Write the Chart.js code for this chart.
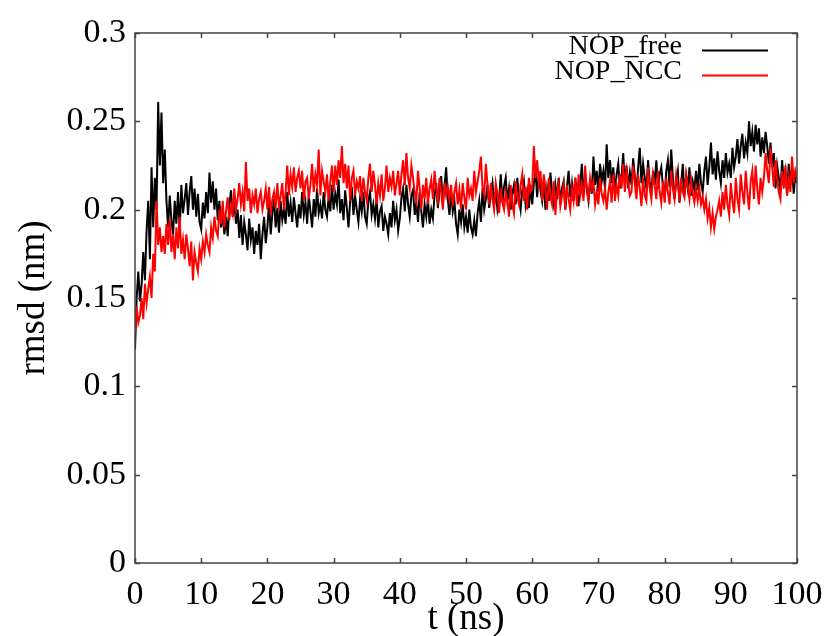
<!DOCTYPE html>
<html>
<head>
<meta charset="utf-8">
<script src="https://cdn.jsdelivr.net/npm/chart.js@4"></script>
<style>
  html, body { margin: 0; padding: 0; background: #fff; }
  #wrap { width: 826px; height: 636px; }
</style>
</head>
<body>
<div id="wrap"><canvas id="rmsdChart" width="826" height="636"></canvas></div>
<script>
'use strict';

// time axis, ns (0 .. 100 every 0.25)
const times = Array.from({ length: 401 }, (_, i) => i * 0.25);

const seriesNames = ['NOP_free', 'NOP_NCC'];
const seriesColors = ['#000000', '#ff0000'];

// rmsd (nm), one row per 5 ns
const nopFree = [
    0.121, 0.150, 0.165, 0.148, 0.158, 0.176, 0.160, 0.188, 0.205, 0.172, 0.224, 0.190, 0.218, 0.200, 0.261, 0.225, 0.255, 0.215, 0.234, 0.205,
    0.190, 0.208, 0.194, 0.186, 0.205, 0.192, 0.210, 0.188, 0.214, 0.198, 0.206, 0.215, 0.197, 0.210, 0.219, 0.200, 0.212, 0.196, 0.209, 0.193,
    0.189, 0.204, 0.195, 0.210, 0.198, 0.221, 0.204, 0.216, 0.200, 0.212, 0.194, 0.205, 0.190, 0.198, 0.186, 0.196, 0.185, 0.202, 0.211, 0.196,
    0.205, 0.192, 0.200, 0.184, 0.197, 0.180, 0.193, 0.186, 0.177, 0.195, 0.183, 0.190, 0.175, 0.188, 0.180, 0.192, 0.172, 0.186, 0.196, 0.181,
    0.190, 0.204, 0.186, 0.198, 0.206, 0.190, 0.201, 0.187, 0.205, 0.194, 0.200, 0.192, 0.210, 0.196, 0.204, 0.193, 0.207, 0.198, 0.190, 0.203,
    0.195, 0.210, 0.197, 0.204, 0.192, 0.208, 0.199, 0.190, 0.206, 0.196, 0.212, 0.198, 0.203, 0.195, 0.210, 0.200, 0.196, 0.207, 0.199, 0.214,
    0.200, 0.209, 0.203, 0.217, 0.198, 0.206, 0.194, 0.211, 0.201, 0.190, 0.205, 0.213, 0.197, 0.208, 0.200, 0.193, 0.206, 0.199, 0.210, 0.196,
    0.192, 0.205, 0.210, 0.197, 0.203, 0.195, 0.206, 0.190, 0.199, 0.202, 0.188, 0.196, 0.192, 0.186, 0.198, 0.190, 0.205, 0.194, 0.200, 0.188,
    0.195, 0.207, 0.212, 0.199, 0.214, 0.203, 0.196, 0.208, 0.211, 0.197, 0.204, 0.193, 0.210, 0.199, 0.190, 0.203, 0.196, 0.206, 0.192, 0.200,
    0.195, 0.208, 0.215, 0.201, 0.210, 0.219, 0.204, 0.213, 0.224, 0.206, 0.197, 0.210, 0.199, 0.205, 0.192, 0.186, 0.200, 0.193, 0.203, 0.190,
    0.196, 0.187, 0.200, 0.190, 0.186, 0.194, 0.185, 0.198, 0.205, 0.193, 0.212, 0.200, 0.206, 0.214, 0.201, 0.209, 0.215, 0.203, 0.210, 0.200,
    0.206, 0.220, 0.204, 0.213, 0.218, 0.205, 0.212, 0.200, 0.209, 0.214, 0.203, 0.218, 0.207, 0.200, 0.211, 0.216, 0.203, 0.210, 0.201, 0.214,
    0.203, 0.215, 0.222, 0.207, 0.220, 0.211, 0.205, 0.216, 0.200, 0.212, 0.205, 0.221, 0.209, 0.203, 0.214, 0.206, 0.218, 0.203, 0.212, 0.216,
    0.200, 0.213, 0.222, 0.207, 0.215, 0.205, 0.218, 0.210, 0.202, 0.214, 0.226, 0.208, 0.220, 0.212, 0.205, 0.217, 0.209, 0.230, 0.214, 0.222,
    0.210, 0.226, 0.216, 0.222, 0.212, 0.237, 0.218, 0.228, 0.215, 0.224, 0.210, 0.220, 0.226, 0.212, 0.219, 0.232, 0.214, 0.225, 0.212, 0.221,
    0.214, 0.229, 0.219, 0.210, 0.224, 0.235, 0.215, 0.226, 0.218, 0.212, 0.228, 0.216, 0.210, 0.222, 0.214, 0.228, 0.212, 0.220, 0.224, 0.213,
    0.208, 0.222, 0.228, 0.213, 0.234, 0.218, 0.206, 0.216, 0.222, 0.204, 0.214, 0.226, 0.208, 0.219, 0.212, 0.224, 0.208, 0.216, 0.211, 0.222,
    0.211, 0.226, 0.215, 0.210, 0.222, 0.230, 0.214, 0.224, 0.238, 0.220, 0.229, 0.217, 0.233, 0.222, 0.215, 0.228, 0.218, 0.232, 0.221, 0.226,
    0.218, 0.235, 0.224, 0.230, 0.240, 0.226, 0.236, 0.243, 0.229, 0.238, 0.232, 0.250, 0.236, 0.244, 0.233, 0.248, 0.237, 0.246, 0.230, 0.241,
    0.232, 0.244, 0.236, 0.226, 0.238, 0.224, 0.232, 0.212, 0.225, 0.218, 0.210, 0.228, 0.216, 0.222, 0.208, 0.226, 0.214, 0.224, 0.209, 0.220,
    0.215
];

const nopNcc = [
    0.130, 0.145, 0.136, 0.140, 0.150, 0.138, 0.158, 0.147, 0.155, 0.162, 0.150, 0.175, 0.165, 0.205, 0.180, 0.190, 0.176, 0.185, 0.175, 0.192,
    0.180, 0.195, 0.176, 0.186, 0.172, 0.190, 0.178, 0.196, 0.175, 0.183, 0.172, 0.186, 0.178, 0.168, 0.182, 0.160, 0.176, 0.170, 0.165, 0.178,
    0.172, 0.182, 0.176, 0.186, 0.180, 0.176, 0.190, 0.184, 0.196, 0.188, 0.185, 0.200, 0.192, 0.205, 0.190, 0.199, 0.207, 0.194, 0.203, 0.198,
    0.212, 0.200, 0.206, 0.215, 0.203, 0.210, 0.199, 0.227, 0.205, 0.212, 0.198, 0.208, 0.203, 0.212, 0.198, 0.206, 0.210, 0.200, 0.205, 0.212,
    0.200, 0.213, 0.197, 0.206, 0.210, 0.201, 0.215, 0.202, 0.208, 0.215, 0.200, 0.210, 0.225, 0.208, 0.220, 0.213, 0.224, 0.210, 0.218, 0.222,
    0.212, 0.222, 0.205, 0.216, 0.218, 0.206, 0.214, 0.226, 0.210, 0.220, 0.214, 0.234, 0.208, 0.222, 0.216, 0.210, 0.220, 0.205, 0.216, 0.225,
    0.210, 0.225, 0.214, 0.228, 0.218, 0.236, 0.215, 0.226, 0.212, 0.225, 0.205, 0.218, 0.222, 0.208, 0.216, 0.212, 0.219, 0.205, 0.218, 0.210,
    0.205, 0.218, 0.226, 0.210, 0.222, 0.214, 0.203, 0.215, 0.208, 0.220, 0.205, 0.212, 0.225, 0.210, 0.218, 0.213, 0.222, 0.208, 0.215, 0.222,
    0.208, 0.220, 0.228, 0.214, 0.232, 0.218, 0.212, 0.225, 0.218, 0.210, 0.205, 0.222, 0.212, 0.200, 0.214, 0.206, 0.218, 0.203, 0.212, 0.217,
    0.206, 0.222, 0.212, 0.205, 0.218, 0.210, 0.200, 0.215, 0.208, 0.213, 0.206, 0.214, 0.202, 0.210, 0.215, 0.203, 0.211, 0.200, 0.215, 0.207,
    0.200, 0.218, 0.208, 0.212, 0.205, 0.222, 0.210, 0.216, 0.222, 0.230, 0.212, 0.208, 0.226, 0.214, 0.203, 0.215, 0.206, 0.200, 0.215, 0.209,
    0.198, 0.212, 0.204, 0.200, 0.210, 0.205, 0.196, 0.214, 0.203, 0.198, 0.216, 0.207, 0.203, 0.214, 0.220, 0.205, 0.213, 0.200, 0.218, 0.210,
    0.212, 0.236, 0.218, 0.228, 0.215, 0.222, 0.205, 0.220, 0.212, 0.200, 0.218, 0.208, 0.203, 0.216, 0.197, 0.210, 0.215, 0.202, 0.208, 0.214,
    0.200, 0.214, 0.206, 0.200, 0.212, 0.205, 0.218, 0.202, 0.220, 0.208, 0.214, 0.205, 0.225, 0.210, 0.206, 0.218, 0.212, 0.216, 0.203, 0.210,
    0.203, 0.218, 0.209, 0.205, 0.212, 0.200, 0.210, 0.216, 0.204, 0.220, 0.205, 0.214, 0.208, 0.220, 0.212, 0.226, 0.210, 0.222, 0.215, 0.208,
    0.210, 0.225, 0.215, 0.206, 0.220, 0.212, 0.202, 0.218, 0.208, 0.205, 0.224, 0.212, 0.206, 0.220, 0.214, 0.206, 0.222, 0.210, 0.204, 0.216,
    0.204, 0.218, 0.210, 0.203, 0.222, 0.212, 0.206, 0.220, 0.214, 0.205, 0.218, 0.210, 0.207, 0.220, 0.213, 0.206, 0.217, 0.209, 0.204, 0.212,
    0.205, 0.212, 0.203, 0.207, 0.200, 0.206, 0.195, 0.201, 0.190, 0.198, 0.189, 0.196, 0.200, 0.205, 0.196, 0.210, 0.200, 0.214, 0.203, 0.197,
    0.215, 0.205, 0.198, 0.218, 0.206, 0.200, 0.220, 0.210, 0.203, 0.222, 0.210, 0.200, 0.216, 0.222, 0.206, 0.225, 0.212, 0.203, 0.218, 0.210,
    0.218, 0.232, 0.222, 0.215, 0.235, 0.224, 0.213, 0.228, 0.218, 0.210, 0.206, 0.222, 0.212, 0.225, 0.208, 0.218, 0.210, 0.230, 0.215, 0.222,
    0.218
];

const xTicks = [0, 10, 20, 30, 40, 50, 60, 70, 80, 90, 100];
const yTicks = [0, 0.05, 0.1, 0.15, 0.2, 0.25, 0.3];

const serif = '"Liberation Serif", "DejaVu Serif", serif';

function toPoints(ys) {
    return ys.map((y, i) => ({ x: times[i], y: y }));
}

// gnuplot-like frame with inward ticks on all four sides
const framePlugin = {
    id: 'frame',
    afterDatasetsDraw(chart) {
        const { ctx, chartArea: a, scales } = chart;
        ctx.save();
        ctx.strokeStyle = '#444';
        ctx.lineWidth = 1.5;
        ctx.strokeRect(a.left, a.top, a.right - a.left, a.bottom - a.top);
        ctx.beginPath();
        xTicks.forEach(v => {
            const px = Math.round(scales.x.getPixelForValue(v)) + 0.5;
            ctx.moveTo(px, a.bottom); ctx.lineTo(px, a.bottom - 5);
            ctx.moveTo(px, a.top); ctx.lineTo(px, a.top + 5);
        });
        yTicks.forEach(v => {
            const py = Math.round(scales.y.getPixelForValue(v)) + 0.5;
            ctx.moveTo(a.left, py); ctx.lineTo(a.left + 5, py);
            ctx.moveTo(a.right, py); ctx.lineTo(a.right - 5, py);
        });
        ctx.stroke();
        ctx.restore();
    }
};

// key in the top right corner: text right-aligned, sample line after it
const keyPlugin = {
    id: 'key',
    afterDraw(chart) {
        const ctx = chart.ctx;
        ctx.save();
        ctx.font = '28px ' + serif;
        ctx.textAlign = 'right';
        ctx.textBaseline = 'middle';
        seriesNames.forEach((name, i) => {
            const y = 49 + i * 25;
            ctx.fillStyle = '#000';
            ctx.fillText(name, 682, y - 2);
            ctx.strokeStyle = seriesColors[i];
            ctx.lineWidth = 2;
            ctx.beginPath();
            ctx.moveTo(702, y + 1.5);
            ctx.lineTo(768, y + 1.5);
            ctx.stroke();
        });
        ctx.restore();
    }
};

const ctx = document.getElementById('rmsdChart').getContext('2d');
const rmsdChart = new Chart(ctx, {
    type: 'line',
    data: {
        datasets: [
            {
                label: seriesNames[0],
                data: toPoints(nopFree),
                borderColor: seriesColors[0],
                borderWidth: 2,
                pointRadius: 0,
                tension: 0,
                order: 1
            },
            {
                label: seriesNames[1],
                data: toPoints(nopNcc),
                borderColor: seriesColors[1],
                borderWidth: 2,
                pointRadius: 0,
                tension: 0,
                order: 0
            }
        ]
    },
    options: {
        responsive: false,
        animation: false,
        layout: { padding: { left: 0, top: 33, right: 29, bottom: 0 } },
        plugins: {
            legend: { display: false },
            tooltip: { enabled: false }
        },
        scales: {
            x: {
                type: 'linear',
                min: 0,
                max: 100,
                afterFit(scale) {
                    scale.height = 73;
                    scale.paddingLeft = 0;
                    scale.paddingRight = 0;
                },
                afterBuildTicks(scale) { scale.ticks = xTicks.map(v => ({ value: v })); },
                grid: { display: false, drawTicks: false },
                border: { display: false },
                ticks: {
                    padding: 12,
                    color: '#000',
                    font: { family: serif, size: 34 },
                    maxRotation: 0,
                    callback: v => String(v)
                },
                title: {
                    display: true,
                    text: 't (ns)',
                    color: '#000',
                    font: { family: serif, size: 37, lineHeight: 0.9 },
                    padding: { top: 0, bottom: 0 }
                }
            },
            y: {
                min: 0,
                max: 0.3,
                afterFit(scale) {
                    scale.width = 135;
                    scale.paddingTop = 0;
                    scale.paddingBottom = 0;
                },
                afterBuildTicks(scale) { scale.ticks = yTicks.map(v => ({ value: v })); },
                grid: { display: false, drawTicks: false },
                border: { display: false },
                ticks: {
                    padding: 9,
                    color: '#000',
                    font: { family: serif, size: 34 },
                    callback: v => String(+v.toFixed(2))
                },
                title: {
                    display: true,
                    text: 'rmsd (nm)',
                    color: '#000',
                    font: { family: serif, size: 37, lineHeight: 1 },
                    padding: { top: 16, bottom: 0 }
                }
            }
        }
    },
    plugins: [framePlugin, keyPlugin]
});
</script>
</body>
</html>
